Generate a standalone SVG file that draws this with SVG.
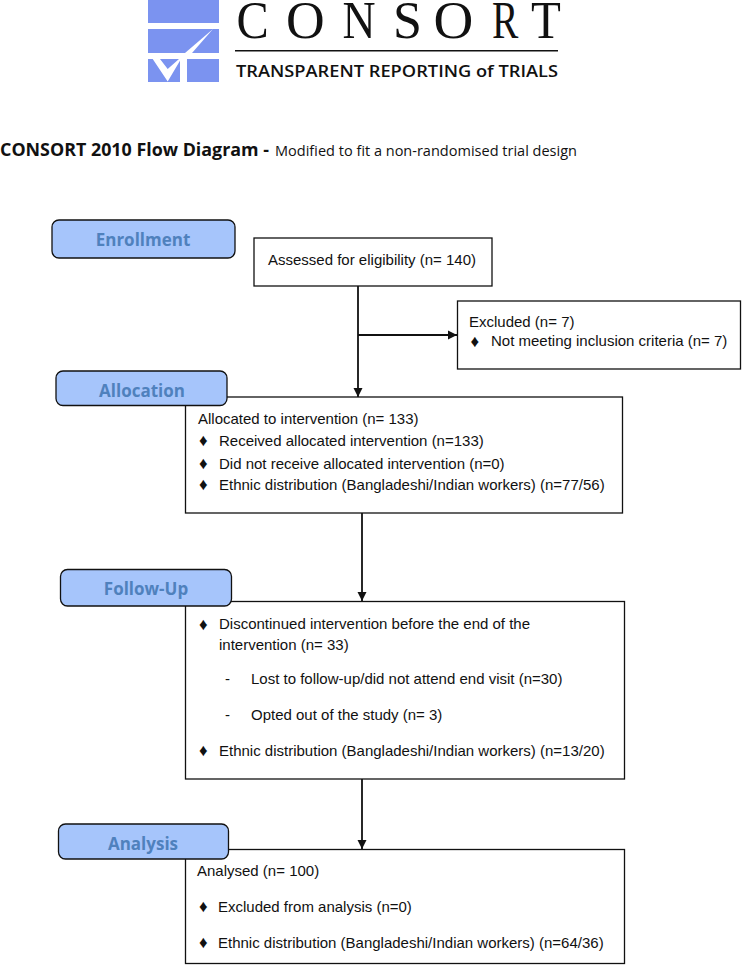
<svg xmlns="http://www.w3.org/2000/svg" width="750" height="965" viewBox="0 0 750 965">
<style>
text{font-family:"Liberation Sans",Arial,sans-serif;font-size:15px;fill:#111}
text.b{font-size:17px}
.box{fill:#fff;stroke:#111;stroke-width:1.3}
.tag{fill:#a6c5fb;stroke:#111;stroke-width:1.3}
.tagt{font-family:"Open Sans","Noto Sans",sans-serif;font-size:17px;font-weight:700;fill:#4f81bd;text-anchor:middle}
.blue{fill:#7b93f0}
.conn{fill:none;stroke:#111;stroke-width:1.8}
.logo{font-family:"Liberation Serif",serif;font-size:52px;fill:#111}
</style>
<defs>
<marker id="arrow" markerUnits="userSpaceOnUse" markerWidth="10" markerHeight="10" refX="9" refY="5" orient="auto"><path d="M0,0.5L9,5L0,9.5Z" fill="#111"/></marker>
</defs>
<g id="logo">
<rect class="blue" x="148" y="0" width="71" height="23"/>
<rect class="blue" x="148" y="29" width="71" height="24"/>
<rect class="blue" x="148" y="59" width="32" height="23"/>
<rect class="blue" x="187" y="59" width="32" height="23"/>
<path d="M152.700,59L167.700,81.500L181,59L179,59L167.700,69L160,59Z" fill="#fff"/>
<path d="M213,29L192,53L185,53Z" fill="#fff"/>
<text class="logo" transform="translate(236.500,38) scale(.93,1)">C</text>
<text class="logo" transform="translate(286,38) scale(1.03,1)">O</text>
<text class="logo" transform="translate(342.500,38) scale(.88,1)">N</text>
<text class="logo" transform="translate(393,38)">S</text>
<text class="logo" transform="translate(433.500,38) scale(1.06,1)">O</text>
<text class="logo" transform="translate(492,38) scale(.76,1)">R</text>
<text class="logo" transform="translate(531,38) scale(.94,1)">T</text>
<rect x="235" y="50" width="323" height="1.500" fill="#111"/>
<text x="236" y="77" style="font-family:'Open Sans',sans-serif;font-size:16.500px;font-weight:600" textLength="322" lengthAdjust="spacingAndGlyphs">TRANSPARENT REPORTING of TRIALS</text>
</g>
<g id="title">
<text x="0" y="156" style="font-family:'Open Sans',sans-serif;font-size:17.500px;font-weight:700" textLength="269" lengthAdjust="spacingAndGlyphs">CONSORT 2010 Flow Diagram -</text>
<text x="275" y="156" style="font-family:'Open Sans',sans-serif;font-size:14px" textLength="302" lengthAdjust="spacingAndGlyphs">Modified to fit a non-randomised trial design</text>
</g>
<g id="connectors">
<path class="conn" d="M358,286V397" marker-end="url(#arrow)"/>
<path class="conn" d="M358,335H457" marker-end="url(#arrow)"/>
<path class="conn" d="M362,513V601" marker-end="url(#arrow)"/>
<path class="conn" d="M362,779V849" marker-end="url(#arrow)"/>
</g>
<g id="enrollment"><rect class="tag" x="52" y="220" width="183" height="38" rx="7"/><text class="tagt" x="143" y="246">Enrollment</text></g>
<g id="assessed"><rect class="box" x="254" y="238" width="238" height="48"/><text x="268" y="264.500">Assessed for eligibility (n= 140)</text></g>
<g id="excluded"><rect class="box" x="457.500" y="301" width="283" height="68"/>
<text x="469" y="326.500">Excluded (n= 7)</text><text class="b" x="470.500" y="346.500">♦</text><text x="491" y="346">Not meeting inclusion criteria (n= 7)</text></g>
<g id="allocated"><rect class="box" x="185.500" y="397" width="437" height="116"/>
<text x="198" y="423.500">Allocated to intervention (n= 133)</text>
<text class="b" x="199" y="446">♦</text><text x="219" y="445.500">Received allocated intervention (n=133)</text>
<text class="b" x="199" y="469">♦</text><text x="219" y="468.500">Did not receive allocated intervention (n=0)</text>
<text class="b" x="199" y="490">♦</text><text x="219" y="489.500">Ethnic distribution (Bangladeshi/Indian workers) (n=77/56)</text></g>
<g id="allocation"><rect class="tag" x="56" y="371" width="171" height="34.500" rx="7"/><text class="tagt" x="142" y="397">Allocation</text></g>
<g id="followup-box"><rect class="box" x="185.500" y="601.500" width="439" height="177.500"/>
<text class="b" x="199" y="629.500">♦</text><text x="219" y="628.500">Discontinued intervention before the end of the</text>
<text x="219" y="649.500">intervention (n= 33)</text>
<text x="225" y="683.500">-</text><text x="251" y="683.500">Lost to follow-up/did not attend end visit (n=30)</text>
<text x="225" y="719.500">-</text><text x="251" y="719.500">Opted out of the study (n= 3)</text>
<text class="b" x="199" y="756">♦</text><text x="219" y="755.500">Ethnic distribution (Bangladeshi/Indian workers) (n=13/20)</text></g>
<g id="followup"><rect class="tag" x="60.500" y="569.500" width="171" height="36.500" rx="7"/><text class="tagt" x="146" y="595">Follow-Up</text></g>
<g id="analysed"><rect class="box" x="185.500" y="849.500" width="439" height="114"/>
<text x="197" y="875.500">Analysed (n= 100)</text>
<text class="b" x="199" y="912">♦</text><text x="218" y="911.500">Excluded from analysis (n=0)</text>
<text class="b" x="199" y="948">♦</text><text x="218" y="947.500">Ethnic distribution (Bangladeshi/Indian workers) (n=64/36)</text></g>
<g id="analysis"><rect class="tag" x="58.500" y="824" width="170" height="35" rx="7"/><text class="tagt" x="143" y="850">Analysis</text></g>
</svg>
